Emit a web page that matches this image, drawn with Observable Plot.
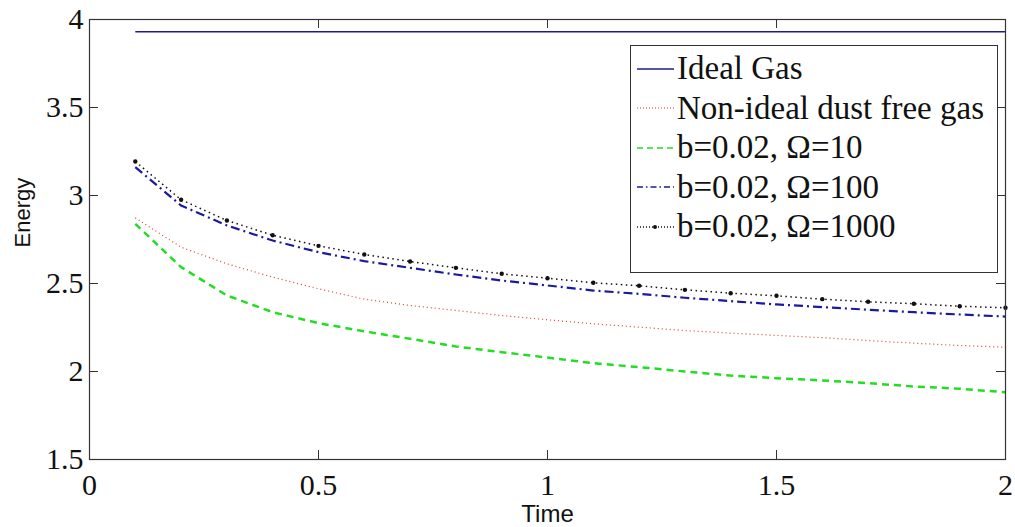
<!DOCTYPE html>
<html>
<head>
<meta charset="utf-8">
<script src="https://cdn.jsdelivr.net/npm/d3@7"></script>
<script src="https://cdn.jsdelivr.net/npm/@observablehq/plot@0.6"></script>
<style>
  html, body { margin: 0; padding: 0; background: #fff; }
  #wrap { position: relative; width: 1015px; height: 527px; }
  #legend {
    position: absolute; left: 630px; top: 45px; width: 368px; height: 228px;
    border: 1px solid #333; background: #fff; box-sizing: border-box;
    padding-top: 3px;
    font-family: "Liberation Serif", "Times New Roman", serif; font-size: 33px; color: #111;
  }
  .row { height: 39.5px; display: flex; align-items: center; white-space: nowrap; }
  .row svg { margin-left: 6px; margin-right: 3px; flex: none; }
</style>
</head>
<body>
<div id="wrap"><div id="legend"></div></div>
<script>
const times = [0.1, 0.2, 0.3, 0.4, 0.5, 0.6, 0.7, 0.8, 0.9, 1.0, 1.1, 1.2, 1.3, 1.4, 1.5, 1.6, 1.7, 1.8, 1.9, 2.0];
const idealGas = [3.93, 3.93, 3.93, 3.93, 3.93, 3.93, 3.93, 3.93, 3.93, 3.93, 3.93, 3.93, 3.93, 3.93, 3.93, 3.93, 3.93, 3.93, 3.93, 3.93];
const nonIdeal = [2.873, 2.706, 2.612, 2.536, 2.470, 2.411, 2.375, 2.347, 2.318, 2.294, 2.271, 2.252, 2.233, 2.218, 2.205, 2.192, 2.176, 2.161, 2.148, 2.138];
const omega10 = [2.839, 2.593, 2.432, 2.337, 2.275, 2.228, 2.186, 2.142, 2.110, 2.079, 2.047, 2.025, 2.000, 1.977, 1.962, 1.949, 1.934, 1.915, 1.902, 1.882];
const omega100 = [3.161, 2.943, 2.830, 2.744, 2.678, 2.627, 2.589, 2.551, 2.517, 2.489, 2.460, 2.441, 2.419, 2.400, 2.381, 2.366, 2.351, 2.337, 2.324, 2.312];
const omega1000 = [3.193, 2.976, 2.858, 2.774, 2.714, 2.665, 2.625, 2.589, 2.555, 2.530, 2.504, 2.487, 2.464, 2.445, 2.430, 2.411, 2.396, 2.385, 2.371, 2.362];
const seriesNames = ["Ideal Gas", "Non-ideal dust free gas", "b=0.02, \u03A9=10", "b=0.02, \u03A9=100", "b=0.02, \u03A9=1000"];
const xTicks = [0, 0.5, 1, 1.5, 2];
const yTicks = [1.5, 2, 2.5, 3, 3.5, 4];
const xLabel = "Time";
const yLabel = "Energy";

const styles = [
  {stroke: "#1c1c8c", strokeWidth: 1.5, dash: null},
  {stroke: "#e03a3a", strokeWidth: 1.2, dash: "1,3"},
  {stroke: "#22dd22", strokeWidth: 2.5, dash: "7,5"},
  {stroke: "#1a1aa0", strokeWidth: 2.2, dash: "9,4,2,4"},
  {stroke: "#111111", strokeWidth: 1.5, dash: "1.5,3.5"}
];
const allSeries = [idealGas, nonIdeal, omega10, omega100, omega1000];
const rows = [];
allSeries.forEach((vals, i) => vals.forEach((v, j) => rows.push({t: times[j], e: v, s: seriesNames[i]})));

const W = 1015, H = 527, mL = 89, mR = 10, mT = 19, mB = 68;
const pw = W - mL - mR, ph = H - mT - mB;
const tick = 9;
const serif = "Liberation Serif, 'Times New Roman', serif";
const sans = "Liberation Sans, Arial, sans-serif";

const marks = [
  Plot.ruleY(yTicks, {y: d => d, insetRight: pw - tick, stroke: "#333"}),
  Plot.ruleY(yTicks, {y: d => d, insetLeft: pw - tick, stroke: "#333"}),
  Plot.ruleX(xTicks, {x: d => d, insetTop: ph - tick, stroke: "#333"}),
  Plot.ruleX(xTicks, {x: d => d, insetBottom: ph - tick, stroke: "#333"}),
  Plot.axisX({ticks: xTicks, tickSize: 0, tickPadding: 14, label: null, tickFormat: d => String(d), fontSize: 30, fontFamily: serif, fill: "#111"}),
  Plot.axisY({ticks: yTicks, tickSize: 0, tickPadding: 6, label: null, tickFormat: d => String(d), fontSize: 30, fontFamily: serif, fill: "#111"})
];
seriesNames.forEach((name, i) => {
  const st = styles[i];
  marks.push(Plot.line(rows.filter(r => r.s === name), {
    x: "t", y: "e", stroke: st.stroke, strokeWidth: st.strokeWidth,
    strokeDasharray: st.dash, strokeLinecap: "butt"
  }));
});
marks.push(Plot.dot(rows.filter(r => r.s === seriesNames[4]), {x: "t", y: "e", r: 2.2, fill: "#111", stroke: null}));
marks.push(Plot.frame({stroke: "#333", strokeWidth: 1.2}));
marks.push(Plot.text([xLabel], {text: d => d, frameAnchor: "bottom", dy: 62, fontSize: 24, fontFamily: sans, fill: "#111"}));
marks.push(Plot.text([yLabel], {text: d => d, frameAnchor: "left", dx: -67, dy: 8, rotate: -90, fontSize: 22, fontFamily: sans, fill: "#111"}));

const chart = Plot.plot({
  width: W, height: H,
  marginLeft: mL, marginRight: mR, marginTop: mT, marginBottom: mB,
  x: {domain: [0, 2]},
  y: {domain: [1.5, 4]},
  style: {fontFamily: serif, background: "#fff", overflow: "visible"},
  marks
});
const wrap = document.getElementById("wrap");
wrap.insertBefore(chart, wrap.firstChild);

// legend
const legend = document.getElementById("legend");
seriesNames.forEach((name, i) => {
  const st = styles[i];
  const row = document.createElement("div");
  row.className = "row";
  const svg = d3.create("svg").attr("width", 37).attr("height", 12);
  svg.append("line").attr("x1", 0).attr("x2", 37).attr("y1", 6).attr("y2", 6)
    .attr("stroke", st.stroke).attr("stroke-width", Math.min(st.strokeWidth, 1.5))
    .attr("stroke-dasharray", st.dash ? (i === 2 ? "6,4" : i === 3 ? "6,3,1.5,3" : "1,2") : null);
  if (i === 4) svg.append("circle").attr("cx", 18).attr("cy", 6).attr("r", 2).attr("fill", "#111");
  row.appendChild(svg.node());
  const span = document.createElement("span");
  span.textContent = name;
  row.appendChild(span);
  legend.appendChild(row);
});
</script>
</body>
</html>
